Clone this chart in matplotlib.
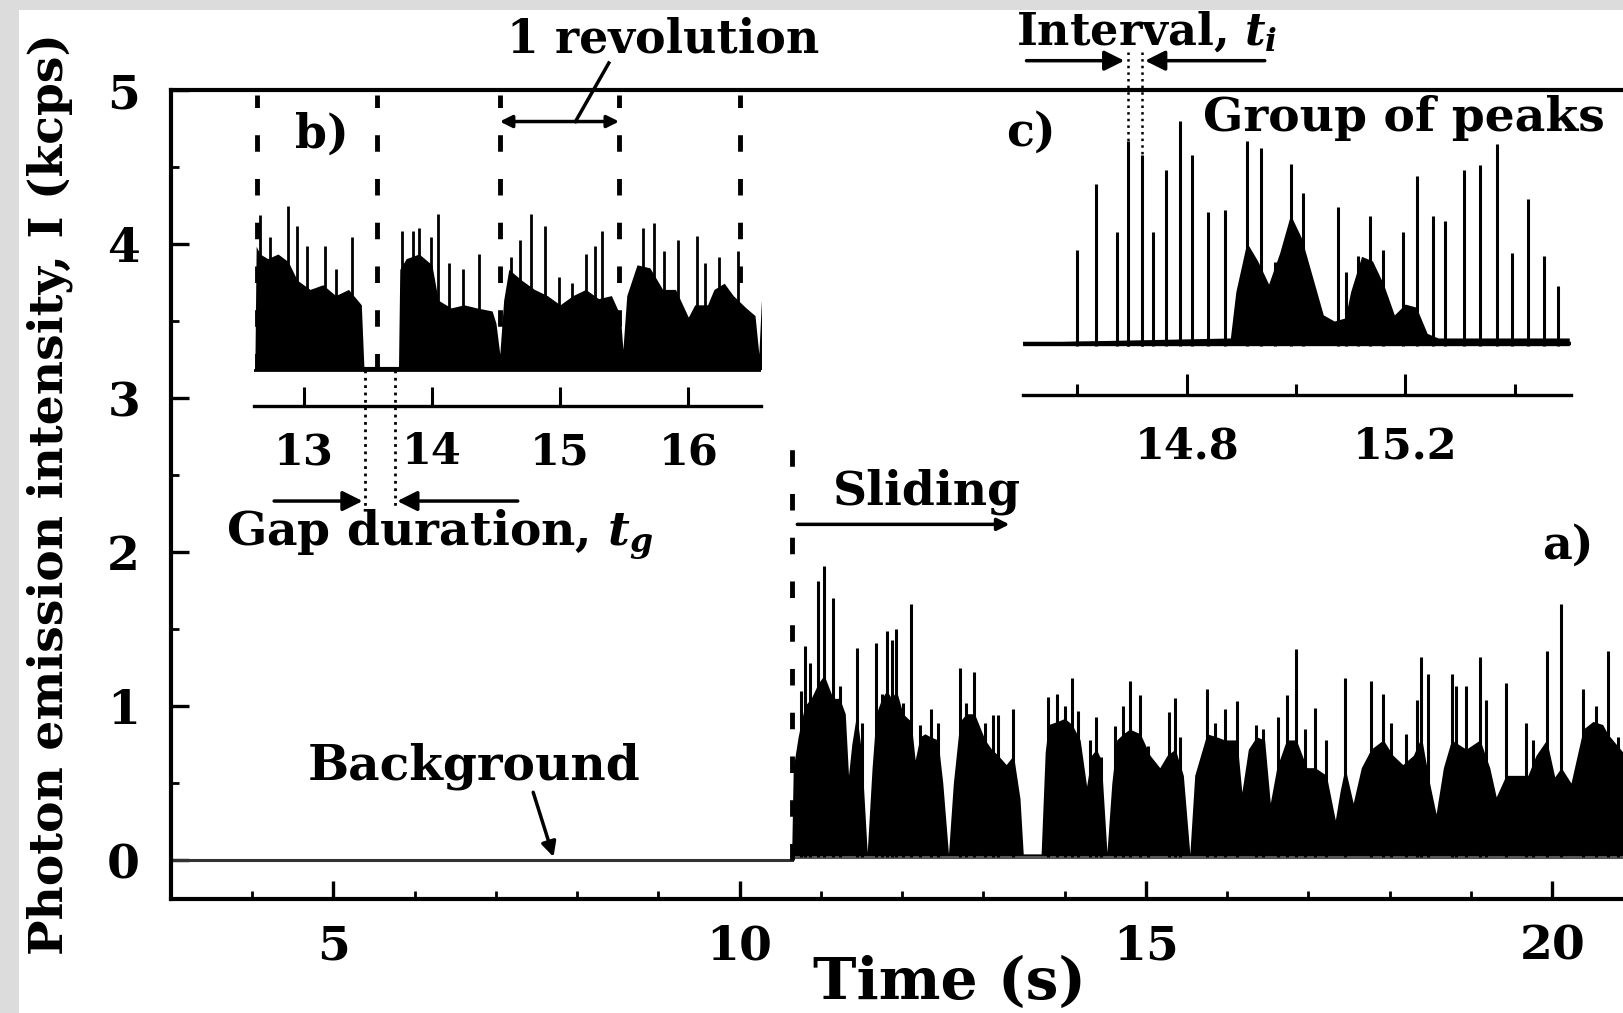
import matplotlib
matplotlib.use('Agg')
import matplotlib.pyplot as plt
from matplotlib.patches import Rectangle
from matplotlib.ticker import MultipleLocator

plt.rcParams['font.family'] = 'DejaVu Serif'
plt.rcParams['font.weight'] = 'bold'
plt.rcParams['axes.labelweight'] = 'bold'
plt.rcParams['mathtext.fontset'] = 'dejavuserif'

# ---- main trace a): upper envelope of the dense signal (time s, kcps) ----
main_t = [10.64, 10.66, 10.72, 10.80, 10.88, 10.97, 11.04, 11.15, 11.23, 11.30,
          11.34, 11.38, 11.44, 11.50, 11.57, 11.63, 11.68, 11.75, 11.81, 11.87,
          11.93, 12.01, 12.11, 12.16, 12.22, 12.28, 12.35, 12.44, 12.50, 12.57,
          12.63, 12.71, 12.79, 12.89, 13.02, 13.10, 13.18, 13.28, 13.37, 13.45,
          13.49, 13.71, 13.76, 13.80, 13.91, 14.00, 14.09, 14.19, 14.27, 14.33,
          14.39, 14.45, 14.52, 14.58, 14.64, 14.72, 14.80, 14.93, 15.05, 15.17,
          15.26, 15.36, 15.46, 15.54, 15.60, 15.75, 15.87, 15.97, 16.12, 16.18,
          16.26, 16.36, 16.46, 16.53, 16.61, 16.73, 16.85, 16.98, 17.08, 17.22,
          17.33, 17.39, 17.45, 17.55, 17.65, 17.77, 17.92, 18.04, 18.16, 18.29,
          18.39, 18.49, 18.57, 18.66, 18.76, 18.94, 19.11, 19.23, 19.31, 19.43,
          19.56, 19.70, 19.80, 19.93, 20.03, 20.11, 20.23, 20.38, 20.50, 20.62,
          20.68, 20.79, 20.87, 21.00]
main_h = [0.03, 0.60, 0.80, 1.00, 1.05, 1.15, 1.20, 1.05, 1.05, 0.95,
          0.55, 0.75, 0.95, 0.70, 0.05, 0.60, 0.95, 1.05, 1.10, 1.05,
          1.10, 0.95, 0.90, 0.65, 0.80, 0.82, 0.80, 0.78, 0.50, 0.04,
          0.50, 0.90, 0.95, 0.95, 0.78, 0.72, 0.68, 0.62, 0.68, 0.40,
          0.04, 0.04, 0.70, 0.88, 0.90, 0.92, 0.88, 0.78, 0.48, 0.68,
          0.72, 0.65, 0.05, 0.50, 0.78, 0.82, 0.85, 0.82, 0.68, 0.60,
          0.68, 0.72, 0.55, 0.04, 0.55, 0.82, 0.80, 0.78, 0.78, 0.44,
          0.72, 0.80, 0.78, 0.37, 0.60, 0.78, 0.78, 0.60, 0.60, 0.55,
          0.26, 0.45, 0.60, 0.37, 0.60, 0.72, 0.78, 0.68, 0.62, 0.68,
          0.80, 0.50, 0.30, 0.60, 0.78, 0.72, 0.78, 0.60, 0.41, 0.55,
          0.55, 0.55, 0.68, 0.78, 0.54, 0.60, 0.50, 0.85, 0.90, 0.88,
          0.82, 0.75, 0.70, 0.70]
# single peaks standing out of the dense trace
spike_t = [10.75, 10.80, 10.87, 10.97, 11.04, 11.15, 11.23, 11.44, 11.50, 11.68,
           11.75, 11.81, 11.87, 11.93, 12.01, 12.11, 12.22, 12.35, 12.44, 12.71,
           12.79, 12.89, 13.02, 13.12, 13.18, 13.37, 13.80, 13.91, 14.00, 14.09,
           14.16, 14.31, 14.39, 14.45, 14.62, 14.72, 14.80, 14.93, 15.03, 15.28,
           15.36, 15.42, 15.75, 15.85, 15.97, 16.12, 16.36, 16.44, 16.63, 16.73,
           16.85, 16.96, 17.08, 17.22, 17.45, 17.77, 17.92, 18.02, 18.20, 18.33,
           18.39, 18.47, 18.76, 18.82, 18.94, 19.11, 19.19, 19.43, 19.68, 19.76,
           19.93, 20.11, 20.38, 20.54, 20.68, 20.81]
spike_h = [1.10, 1.39, 1.28, 1.81, 1.91, 1.70, 1.13, 1.38, 0.89, 1.41,
           1.08, 1.49, 1.43, 1.50, 1.02, 1.66, 0.88, 0.98, 0.89, 1.25,
           1.02, 1.22, 0.89, 0.94, 0.94, 0.98, 1.06, 1.08, 1.00, 1.18,
           0.97, 0.78, 0.93, 0.67, 0.87, 1.00, 1.16, 1.07, 0.74, 0.96,
           1.05, 0.80, 1.11, 0.89, 0.98, 1.03, 0.88, 0.85, 0.93, 1.07,
           1.37, 0.85, 0.99, 0.78, 1.18, 1.16, 1.08, 0.89, 0.82, 1.04,
           1.32, 1.21, 1.21, 1.13, 1.13, 1.32, 1.04, 1.15, 0.89, 0.78,
           1.36, 1.66, 1.11, 1.00, 1.36, 0.80]
slide_start = 10.64

# ---- inset b): revolutions ----
b_t = [12.62, 12.63, 12.66, 12.72, 12.80, 12.88, 12.95, 13.05, 13.15, 13.25,
       13.35, 13.45, 13.47, 13.74, 13.75, 13.80, 13.90, 14.00, 14.05, 14.15,
       14.25, 14.35, 14.47, 14.50, 14.53, 14.56, 14.60, 14.70, 14.80, 14.90,
       15.00, 15.10, 15.20, 15.30, 15.40, 15.47, 15.49, 15.52, 15.60, 15.70,
       15.80, 15.90, 16.00, 16.05, 16.15, 16.20, 16.28, 16.35, 16.45, 16.52,
       16.55, 16.57, 16.58]
b_h = [0.02, 0.80, 0.75, 0.72, 0.75, 0.70, 0.58, 0.52, 0.55, 0.48,
       0.52, 0.42, 0.02, 0.02, 0.65, 0.72, 0.75, 0.68, 0.45, 0.40,
       0.42, 0.40, 0.38, 0.30, 0.10, 0.45, 0.65, 0.58, 0.52, 0.48,
       0.42, 0.48, 0.52, 0.46, 0.48, 0.35, 0.13, 0.48, 0.68, 0.66,
       0.52, 0.52, 0.34, 0.42, 0.42, 0.52, 0.56, 0.48, 0.40, 0.35,
       0.10, 0.45, 0.02]
b_spike_t = [12.66, 12.74, 12.88, 12.95, 13.03, 13.17, 13.25, 13.38, 13.77, 13.85,
             13.90, 13.99, 14.05, 14.13, 14.24, 14.37, 14.62, 14.69, 14.77, 14.88,
             14.99, 15.09, 15.20, 15.27, 15.33, 15.65, 15.73, 15.81, 15.92, 16.07,
             16.13, 16.24, 16.39]
b_spike_h = [1.00, 0.86, 1.06, 0.93, 0.80, 0.80, 0.65, 0.86, 0.90, 0.90,
             0.92, 0.86, 1.01, 0.69, 0.65, 0.75, 0.73, 0.84, 1.01, 0.93,
             0.60, 0.56, 0.75, 0.80, 0.90, 0.92, 0.95, 0.77, 0.84, 0.87,
             0.69, 0.73, 0.77]
b_ticks = [13, 14, 15, 16]
rev_lines = [12.64, 13.57, 14.53, 15.46, 16.40]
gap_lines = [13.48, 13.71]

# ---- inset c): group of peaks ----
c_t = [14.50, 14.60, 14.88, 14.89, 14.91, 14.93, 14.95, 14.97, 14.99, 15.01,
       15.03, 15.05, 15.07, 15.09, 15.10, 15.12, 15.14, 15.16, 15.18, 15.20,
       15.22, 15.24, 15.26, 15.50]
c_h = [0.02, 0.03, 0.05, 0.35, 0.67, 0.55, 0.40, 0.60, 0.85, 0.70,
       0.45, 0.20, 0.16, 0.18, 0.35, 0.58, 0.55, 0.40, 0.20, 0.27,
       0.25, 0.08, 0.05, 0.05]
c_spike_t = [14.600, 14.634, 14.673, 14.692, 14.718, 14.739, 14.763, 14.787, 14.809, 14.840,
             14.871, 14.911, 14.936, 14.962, 14.991, 15.013, 15.077, 15.091, 15.113, 15.135,
             15.159, 15.195, 15.221, 15.250, 15.273, 15.307, 15.336, 15.367, 15.396, 15.425,
             15.454, 15.479]
c_spike_h = [0.62, 1.05, 0.74, 1.33, 1.24, 0.74, 1.14, 1.46, 1.24, 0.87,
             0.88, 1.33, 1.28, 0.54, 1.18, 0.99, 0.90, 0.48, 0.58, 0.84,
             0.62, 0.74, 1.10, 0.84, 0.81, 1.14, 1.17, 1.31, 0.60, 0.95,
             0.58, 0.39]
c_ticks = [14.6, 14.8, 15.0, 15.2, 15.4]
c_labels = ['', '14.8', '', '15.2', '']
interval_lines = [14.692, 14.718]

dash = (0, (3.4, 5.6))
arrow = dict(arrowstyle='-|>', color='black', lw=2.5, mutation_scale=30,
             shrinkA=0, shrinkB=0)

fig = plt.figure(figsize=(16.23, 10.13), dpi=100)
fig.patch.set_facecolor('white')

# main axes
ax = fig.add_axes([0.1052, 0.1130, 0.8948, 0.798])
ax.set_xlim(3, 20.87)
ax.set_ylim(-0.25, 5.0)
ax.spines['right'].set_visible(False)
for s in ['left', 'top', 'bottom']:
    ax.spines[s].set_linewidth(3)
ax.set_xticks([5, 10, 15, 20])
ax.xaxis.set_minor_locator(MultipleLocator(1))
ax.yaxis.set_minor_locator(MultipleLocator(0.5))
ax.tick_params(which='both', direction='in', top=False, right=False)
ax.tick_params(which='major', length=13, width=2.4, labelsize=34)
ax.tick_params(which='minor', length=6, width=2)
ax.tick_params(axis='x', pad=18)
ax.tick_params(axis='y', pad=22)

ax.plot([3, slide_start], [0, 0], color='#333333', lw=2.2)
ax.plot([slide_start, 21], [0.02, 0.02], color='#555555', lw=2.2)
ax.fill_between(main_t, 0.02, main_h, color='black', lw=0)
ax.vlines(spike_t, 0.02, spike_h, color='black', lw=2.2)
ax.plot([slide_start, slide_start], [0, 2.69], color='black', lw=3.5, ls=dash)

ax.set_xlabel('Time (s)', fontsize=42, va='center')
ax.xaxis.set_label_coords(0.5365, -0.1045)
ax.set_ylabel('Photon emission intensity, I (kcps)', fontsize=34, va='center')
ax.yaxis.set_label_coords(-0.0832, 0.5)

ax.annotate('', xy=(7.71, 0.02), xytext=(7.46, 0.44),
            arrowprops=dict(arrowstyle='-|>', color='black', lw=2.5,
                            mutation_scale=22, shrinkA=0, shrinkB=0))
ax.text(6.73, 0.61, 'Background', fontsize=35, ha='center', va='center')
ax.text(12.31, 2.39, 'Sliding', fontsize=34, ha='center', va='center')
ax.annotate('', xy=(13.32, 2.18), xytext=(10.71, 2.18),
            arrowprops=dict(arrowstyle='-|>', color='black', lw=2.5,
                            mutation_scale=18, shrinkA=0, shrinkB=0))
ax.text(20.19, 2.04, 'a)', fontsize=33, ha='center', va='center')

# inset b)
axb = fig.add_axes([0.15625, 0.5992, 0.3125, 0.312])
axb.patch.set_visible(False)
axb.set_xlim(12.61, 16.565)
axb.set_ylim(-0.237, 1.815)
for s in ['left', 'top', 'right']:
    axb.spines[s].set_visible(False)
axb.spines['bottom'].set_linewidth(2.4)
axb.set_yticks([])
axb.set_xticks(b_ticks)
axb.tick_params(axis='x', direction='in', length=13.5, width=2.2, labelsize=31, pad=18)
axb.plot([12.61, 16.565], [0, 0], color='black', lw=2)
axb.fill_between(b_t, 0, b_h, color='black', lw=0)
axb.vlines(b_spike_t, 0, b_spike_h, color='black', lw=2)
for x in rev_lines:
    axb.plot([x, x], [0.0, 1.78], color='black', lw=3.5, ls=dash, clip_on=False)
for x in gap_lines:
    axb.plot([x, x], [0.0, -0.89], color='black', lw=2, ls=':', clip_on=False)
axb.annotate('', xy=(13.46, -0.854), xytext=(12.77, -0.854), arrowprops=arrow,
             annotation_clip=False)
axb.annotate('', xy=(13.73, -0.854), xytext=(14.67, -0.854), arrowprops=arrow,
             annotation_clip=False)
axb.text(14.06, -1.07, 'Gap duration, $t_g$', fontsize=34, ha='center', va='center')
axb.text(13.14, 1.525, 'b)', fontsize=33, ha='center', va='center')
axb.annotate('', xy=(15.46, 1.61), xytext=(14.53, 1.61),
             arrowprops=dict(arrowstyle='<|-|>', color='black', lw=2.5,
                             mutation_scale=18, shrinkA=0, shrinkB=0),
             annotation_clip=False)
axb.plot([15.12, 15.38], [1.61, 1.99], color='black', lw=2.5, clip_on=False)
axb.text(15.80, 2.14, '1 revolution', fontsize=33, ha='center', va='center')

# inset c)
axc = fig.add_axes([0.6301, 0.6101, 0.3378, 0.3011])
axc.patch.set_visible(False)
axc.set_xlim(14.50, 15.503)
axc.set_ylim(-0.32, 1.66)
for s in ['left', 'top', 'right']:
    axc.spines[s].set_visible(False)
axc.spines['bottom'].set_linewidth(2.4)
axc.set_yticks([])
axc.set_xticks(c_ticks)
axc.set_xticklabels(c_labels)
axc.tick_params(axis='x', direction='in', length=15, width=2.2, labelsize=31, pad=22)
for t, lab in zip(axc.xaxis.get_major_ticks(), c_labels):
    if lab == '':
        t.tick1line.set_markersize(8)
axc.plot([14.50, 15.503], [0.02, 0.02], color='black', lw=2.5)
axc.fill_between(c_t, 0, c_h, color='black', lw=0)
axc.vlines(c_spike_t, 0, c_spike_h, color='black', lw=2.2)
for x in interval_lines:
    axc.plot([x, x], [0.0, 1.92], color='black', lw=1.8, ls=':', clip_on=False)
axc.annotate('', xy=(14.686, 1.85), xytext=(14.507, 1.85), arrowprops=arrow,
             annotation_clip=False)
axc.annotate('', xy=(14.724, 1.85), xytext=(14.943, 1.85), arrowprops=arrow,
             annotation_clip=False)
axc.text(14.727, 2.04, 'Interval, $t_i$', fontsize=32, ha='center', va='center')
axc.text(15.197, 1.48, 'Group of peaks', fontsize=34, ha='center', va='center')
axc.text(14.515, 1.38, 'c)', fontsize=33, ha='center', va='center')

# grey scan border
fig.add_artist(Rectangle((0, 0), 19 / 1623, 1, transform=fig.transFigure,
                         color='#dcdcdc', lw=0))
fig.add_artist(Rectangle((0, 1 - 10 / 1013), 1, 10 / 1013, transform=fig.transFigure,
                         color='#dcdcdc', lw=0))

fig.savefig('out.png', dpi=100)
